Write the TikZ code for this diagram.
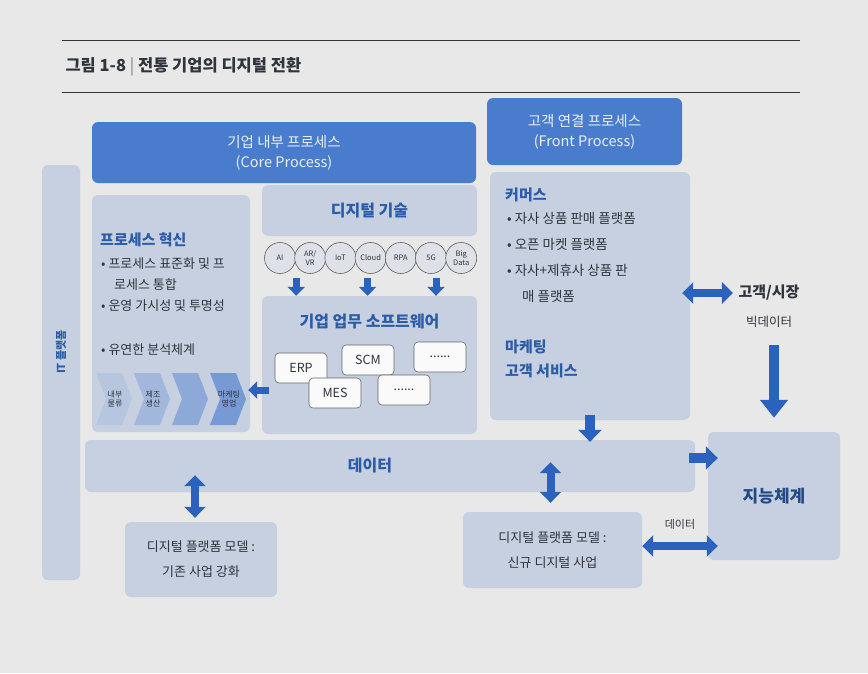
\documentclass[tikz,border=0pt]{standalone}
\usepackage{fontspec}
\setmainfont{Noto Sans CJK KR}
\usetikzlibrary{arrows.meta,calc}

\definecolor{pagebg}{HTML}{E8E8E9}
\definecolor{panel}{HTML}{C6D0E1}
\definecolor{headblue}{HTML}{4A7CCD}
\definecolor{arrowblue}{HTML}{2A62BE}
\definecolor{textblue}{HTML}{2C5BA8}
\definecolor{darktext}{HTML}{30343D}

\begin{document}
\begin{tikzpicture}[
    x=1pt,y=-1pt,
    panel/.style={fill=panel,rounded corners=6pt,inner sep=0pt},
    header/.style={fill=headblue,rounded corners=6pt,inner sep=0pt,align=center,
      text=white!88!headblue,font=\fontsize{14.5}{20}\selectfont},
    boxhead/.style={font=\bfseries\fontsize{15}{18}\selectfont,text=textblue,inner sep=0pt},
    bodytext/.style={font=\fontsize{13}{15}\selectfont,text=darktext,anchor=west,inner sep=0pt},
    fronttext/.style={bodytext,font=\fontsize{13.5}{16}\selectfont},
    techcircle/.style={circle,draw=gray!75!black,fill=pagebg!70!panel,line width=0.6pt,
      minimum size=31pt,inner sep=0pt,align=center,text=darktext,font=\fontsize{7.5}{8.5}\selectfont},
    swbox/.style={draw=gray!80!black,fill=white!80!pagebg,rounded corners=4pt,line width=0.6pt,
      minimum width=52pt,minimum height=30pt,text=darktext,font=\fontsize{12.5}{14}\selectfont},
    chevtext/.style={align=center,text=darktext,font=\fontsize{8}{9}\selectfont,inner sep=0pt},
    smallarrow/.style={arrowblue,line width=7pt,-{Triangle[width=17pt,length=9pt]}},
    midarrow/.style={arrowblue,line width=10pt,-{Triangle[width=23pt,length=12pt]}},
    bigarrow/.style={arrowblue,line width=10pt,-{Triangle[width=27pt,length=18pt]}},
    dblarrow/.style={arrowblue,line width=8pt,{Triangle[width=21pt,length=11pt]}-{Triangle[width=21pt,length=11pt]}},
    rule/.style={draw=darktext,line width=0.8pt},
  ]

  \useasboundingbox (0,0) rectangle (868,673);
  \fill[pagebg] (0,0) rectangle (868,673);

  % title
  \draw[rule] (62,40) -- (800,40);
  \draw[rule] (62,92) -- (800,92);
  \node[anchor=west,font=\bfseries\fontsize{16.5}{19}\selectfont,text=darktext] (title) at (62,67)
    {그림 1-8 {\mdseries\color{gray}|} 전통 기업의 디지털 전환};

  % panels
  \node[panel,minimum width=38pt,minimum height=415pt] (itbar) at (61,372.5) {};
  \node[rotate=90,font=\bfseries\fontsize{11}{13}\selectfont,text=textblue] (itlabel) at (61,352) {IT 플랫폼};

  \node[header,minimum width=384pt,minimum height=61pt] (corehead) at (284,152.5)
    {기업 내부 프로세스\\(Core Process)};
  \node[header,minimum width=195pt,minimum height=67pt] (fronthead) at (584.5,131.5)
    {고객 연결 프로세스\\(Front Process)};

  \node[panel,minimum width=158pt,minimum height=237pt] (innov) at (171,313.5) {};
  \node[panel,minimum width=215pt,minimum height=51pt] (digtech) at (369.5,210.5) {};
  \node[panel,minimum width=215pt,minimum height=138pt] (sw) at (369.5,365) {};
  \node[panel,minimum width=200pt,minimum height=248pt] (front) at (590,296) {};
  \node[panel,minimum width=610pt,minimum height=52pt] (data) at (390,466) {};
  \node[panel,minimum width=132pt,minimum height=128pt] (intel) at (774,496) {};
  \node[panel,minimum width=152pt,minimum height=75pt,align=center,text=darktext,
    font=\fontsize{13}{25}\selectfont] (oldbiz) at (201,559.5) {디지털 플랫폼 모델 :\\기존 사업 강화};
  \node[panel,minimum width=179pt,minimum height=76pt,align=center,text=darktext,
    font=\fontsize{13}{25}\selectfont] (newbiz) at (552.5,550) {디지털 플랫폼 모델 :\\신규 디지털 사업};

  % process innovation
  \node[boxhead,anchor=west] (innovtitle) at (100,240) {프로세스 혁신};
  \node[bodytext] (innov1) at (101,264) {• 프로세스 표준화 및 프};
  \node[bodytext] (innov1b) at (114,285) {로세스 통합};
  \node[bodytext] (innov2) at (101,306) {• 운영 가시성 및 투명성};
  \node[bodytext] (innov3) at (101,350) {• 유연한 분석체계};

  \foreach \i/\s/\lbl in {0/12/{내부\\물류},1/30/{제조\\생산},2/46/{},3/64/{마케팅\\영업}} {
    \pgfmathsetmacro\xa{96+\i*38}
    \fill[headblue!\s!panel] (\xa,373) -- ++(26,0) -- ++(10,26) -- ++(-10,26) -- ++(-26,0) -- ++(10,-26) -- cycle;
    \node[chevtext] (chev\i) at (\xa+19,399) {\lbl};
  }

  % digital technology
  \node[boxhead,font=\bfseries\fontsize{16}{19}\selectfont] (digtitle) at (digtech) {디지털 기술};
  \foreach \lbl [count=\k] in {AI,{AR/\\VR},IoT,Cloud,RPA,5G,{Big\\Data}}
    \node[techcircle] (tech\k) at ({280+(\k-1)*30.2},258) {\lbl};

  \foreach \c/\dx in {tech2/-14,tech4/-3,tech6/5}
    \draw[smallarrow] ([xshift=\dx pt,yshift=-4pt]\c.south) -- ([xshift=\dx pt]\c.south |- sw.north);

  % enterprise software
  \node[boxhead,font=\bfseries\fontsize{16}{19}\selectfont] (swtitle) at (369.5,322) {기업 업무 소프트웨어};
  \node[swbox] (erp) at (301,368) {ERP};
  \node[swbox] (scm) at (368,360) {SCM};
  \node[swbox] (etc1) at (440,357) {......};
  \node[swbox] (mes) at (335,393) {MES};
  \node[swbox] (etc2) at (404,390) {......};

  \draw[smallarrow] ([xshift=7pt,yshift=-25pt]sw.west) -- ([xshift=-2pt,yshift=-25pt]sw.west -| innov.east);

  % front process
  \node[boxhead,anchor=west] (commerce) at (505,195) {커머스};
  \node[fronttext] (front1) at (507,218) {• 자사 상품 판매 플랫폼};
  \node[fronttext] (front2) at (507,244) {• 오픈 마켓 플랫폼};
  \node[fronttext] (front3) at (507,270) {• 자사+제휴사 상품 판};
  \node[fronttext] (front3b) at (522,296) {매 플랫폼};
  \node[boxhead,anchor=west] (marketing) at (505,347) {마케팅};
  \node[boxhead,anchor=west] (service) at (505,371) {고객 서비스};

  % market and big data
  \node[font=\bfseries\fontsize{15}{18}\selectfont,text=darktext] (market) at (769,293) {고객/시장};
  \node[font=\fontsize{12.5}{15}\selectfont,text=darktext] (bigdata) at (769,322) {빅데이터};
  \draw[dblarrow] ([xshift=-8pt]front.east |- market) -- ([xshift=-2pt]market.west);
  \draw[bigarrow] ([yshift=-14pt]bigdata.south -| intel.north) -- ([yshift=14pt]intel.north);

  % data and intelligence
  \node[boxhead,font=\bfseries\fontsize{16}{19}\selectfont] (datatitle) at (370,466) {데이터};
  \node[font=\bfseries\fontsize{17}{20}\selectfont,text=textblue!80!black] (inteltitle) at (intel) {지능체계};

  \draw[midarrow] ([yshift=5pt]front.south) -- ([yshift=-2pt]front.south |- data.north);
  \draw[midarrow] ([xshift=-6pt,yshift=8pt]data.east) -- ([xshift=10pt,yshift=8pt]data.east -| intel.west);
  \draw[dblarrow] ([xshift=-6pt,yshift=17pt]oldbiz.north |- data.south) -- ([xshift=-6pt,yshift=4pt]oldbiz.north);
  \draw[dblarrow] ([xshift=-2pt,yshift=30pt]newbiz.north |- data.south) -- ([xshift=-2pt,yshift=9pt]newbiz.north);
  \draw[dblarrow] ([yshift=4pt]newbiz.east) -- ([xshift=10pt,yshift=4pt]newbiz.east -| intel.west)
    node[midway,above=9pt,font=\fontsize{11}{13}\selectfont,text=darktext] (datalabel) {데이터};

\end{tikzpicture}
\end{document}
